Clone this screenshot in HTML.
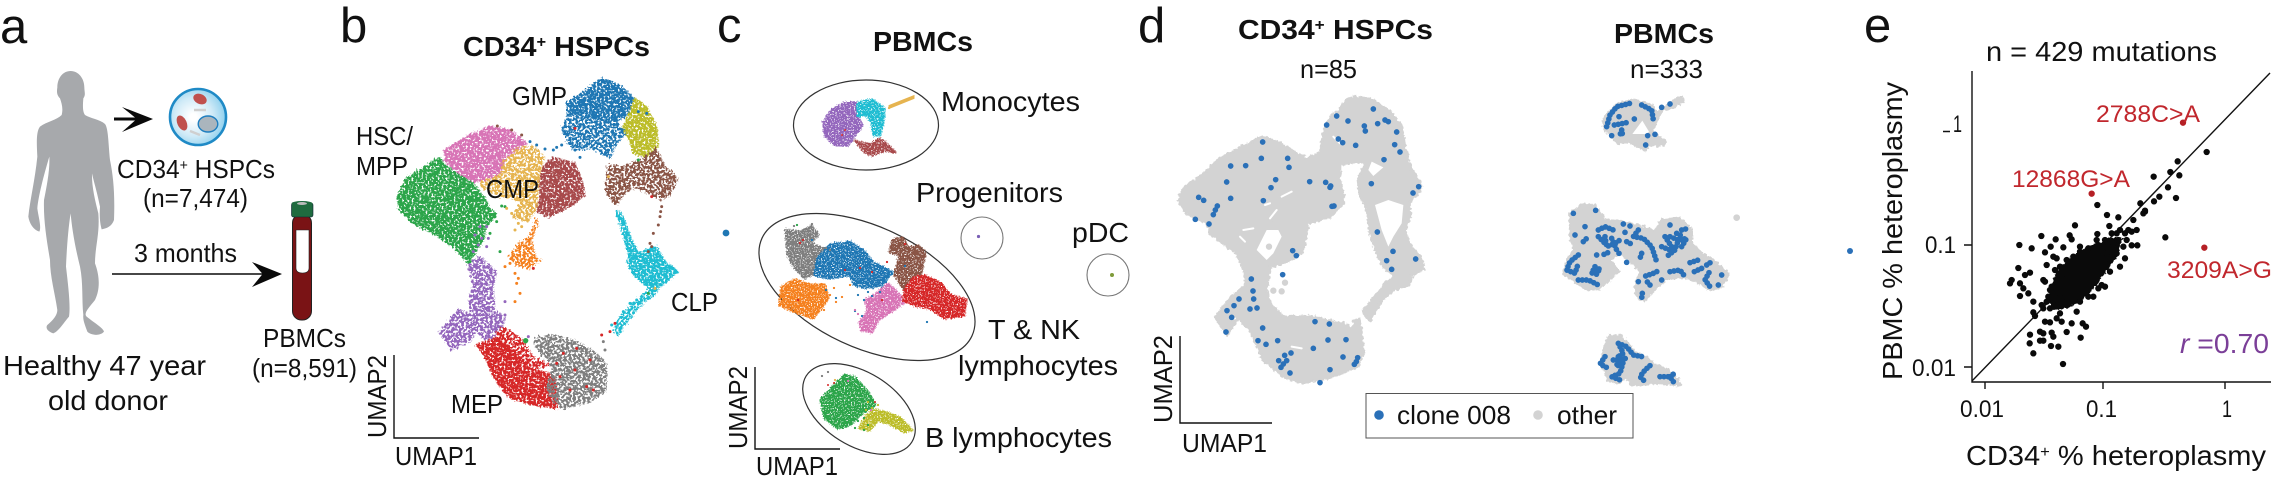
<!DOCTYPE html>
<html><head><meta charset="utf-8"><title>Figure</title>
<style>
html,body{margin:0;padding:0;background:#fff}
svg{display:block}
text{font-family:"Liberation Sans",Arial,sans-serif;fill:#111}
.b{font-weight:bold}
.red{fill:#c1272d}
.d{fill:none;stroke-linecap:round;stroke-linejoin:round}
</style></head><body>
<svg xmlns="http://www.w3.org/2000/svg" width="2275" height="489" viewBox="0 0 2275 489">
<defs>
<radialGradient id="cg" cx="0.42" cy="0.5" r="0.58"><stop offset="0.1" stop-color="#fff"/><stop offset="0.6" stop-color="#cfeaf7"/><stop offset="1" stop-color="#8ed0ee"/></radialGradient>
<filter id="sp" x="-5%" y="-5%" width="110%" height="110%" color-interpolation-filters="sRGB">
<feTurbulence type="fractalNoise" baseFrequency="0.5" numOctaves="2" seed="3" result="n"/>
<feDisplacementMap in="SourceGraphic" in2="n" scale="6" xChannelSelector="R" yChannelSelector="G" result="d"/>
<feColorMatrix in="n" type="matrix" values="0 0 0 0 0 0 0 0 0 0 0 0 0 0 0 15 0 0 0 -5.2" result="m"/>
<feComposite in="d" in2="m" operator="in"/>
</filter>
<filter id="spb" x="-5%" y="-5%" width="110%" height="110%" color-interpolation-filters="sRGB">
<feTurbulence type="fractalNoise" baseFrequency="0.42" numOctaves="2" seed="8" result="n"/>
<feDisplacementMap in="SourceGraphic" in2="n" scale="8" xChannelSelector="R" yChannelSelector="G" result="d"/>
<feColorMatrix in="n" type="matrix" values="0 0 0 0 0 0 0 0 0 0 0 0 0 0 0 15 0 0 0 -6.2" result="m"/>
<feComposite in="d" in2="m" operator="in"/>
</filter>
<filter id="spc" x="-5%" y="-5%" width="110%" height="110%" color-interpolation-filters="sRGB">
<feTurbulence type="fractalNoise" baseFrequency="0.7" numOctaves="2" seed="5" result="n"/>
<feDisplacementMap in="SourceGraphic" in2="n" scale="5" xChannelSelector="R" yChannelSelector="G" result="d"/>
<feColorMatrix in="n" type="matrix" values="0 0 0 0 0 0 0 0 0 0 0 0 0 0 0 15 0 0 0 -4.8" result="m"/>
<feComposite in="d" in2="m" operator="in"/>
</filter>
<filter id="rg" x="-5%" y="-5%" width="110%" height="110%" color-interpolation-filters="sRGB">
<feTurbulence type="fractalNoise" baseFrequency="0.3" numOctaves="2" seed="11" result="n"/>
<feDisplacementMap in="SourceGraphic" in2="n" scale="5" xChannelSelector="R" yChannelSelector="G"/>
</filter>
<polygon id="m1" points="845,103 862,103 858,118 862,125 855,135 848,145 835,145 825,135 824,122 832,110"/>
<polygon id="m2" points="858,103 872,100 884,108 884,118 880,135 874,135 872,122 866,114 858,116"/>
<polygon id="m3" points="855,141 870,145 880,139 888,145 895,152 885,150 878,153 872,155 865,152 860,146"/>
<polygon id="m4" points="889,105.600 914,95.600 914,98.400 889,108.400"/>
<polygon id="t1" points="786,230 800,232 812,226 818,235 810,243 826,250 820,270 805,278 795,268 788,255"/>
<polygon id="t2" points="830,245 850,242 865,252 872,262 892,272 882,285 868,288 855,285 850,275 830,278 815,275 818,258"/>
<polygon id="t3" points="782,287 795,280 810,285 825,285 828,298 820,310 813,318 795,312 780,305"/>
<polygon id="t4" points="893,240 903,238 908,248 918,246 925,252 922,270 917,280 905,290 895,275 900,255 890,252"/>
<polygon id="t5" points="888,284 895,290 905,302 890,312 878,320 872,332 862,330 860,322 868,312 866,300 875,295"/>
<polygon id="t6" points="915,277 925,276 940,283 950,295 966,300 964,315 945,318 930,308 915,305 903,300 906,288"/>
<polygon id="b1" points="835,385 845,375 855,378 868,392 875,405 860,415 850,425 838,428 825,418 821,400"/>
<polygon id="b2" points="860,428 866,416 875,410 888,413 900,418 912,430 905,432 890,424 878,420 870,430"/>
</defs>
<rect width="2275" height="489" fill="#fff"/>

<!-- panel a -->
<path transform="scale(.33333)" fill="#a7a9ac" d="M212,213 C235,213 253,235 253,262 C253,275 258,285 250,295 C248,320 248,335 255,345 C270,355 300,358 315,372 C325,385 325,430 330,480 C340,530 345,580 342,660 C335,680 320,685 305,688 C300,670 298,650 300,620 C290,570 280,540 276,520 C275,560 285,600 295,640 C300,700 285,740 285,790 C300,830 300,870 285,900 C265,925 250,940 260,950 C285,970 310,985 312,995 C300,1010 270,1005 262,995 C255,975 248,960 250,945 C245,900 250,850 240,800 C225,740 215,680 212,640 C205,680 200,750 198,800 C205,860 212,920 207,950 C190,970 175,995 160,1000 C145,995 135,985 142,975 C160,960 172,945 172,930 C165,880 150,830 150,780 C140,720 130,660 132,600 C140,560 150,510 148,470 C130,530 115,590 112,625 C115,650 125,680 118,695 C100,690 88,670 85,650 C90,600 105,540 112,470 C110,430 108,395 120,380 C140,365 170,360 185,345 C190,325 185,310 180,295 C170,285 170,275 172,262 C172,235 188,213 212,213 Z"/>
<path d="M114,117.500H135L122,107L153,119L122,132L135,120.500H114Z" fill="#0a0a0a"/>
<circle cx="198" cy="117" r="28" fill="url(#cg)" stroke="#1f8ac6" stroke-width="2.600"/>
<ellipse cx="208" cy="124" rx="9.800" ry="8" fill="#aab5bd" stroke="#1f7fc0" stroke-width="1.400"/>
<ellipse cx="200" cy="99" rx="7" ry="5" transform="rotate(25 200 99)" fill="#c0504d"/>
<ellipse cx="182" cy="123" rx="8" ry="4.600" transform="rotate(65 182 123)" fill="#c0504d"/>
<path d="M194,110l12,0M190,131l10,4" stroke="#cfcfcf" stroke-width="2.500" fill="none"/>
<path d="M112,273.200H262L252,262L282,274L252,287L262,274.800H112Z" fill="#0a0a0a"/>
<rect x="292.500" y="214" width="19" height="106" rx="9" fill="#7a1315" stroke="#222" stroke-width="1"/>
<path d="M296,230H309V268Q309,273 302.500,273Q296,273 296,268Z" fill="#fff" stroke="#222" stroke-width=".6"/>
<rect x="291.500" y="203" width="21.500" height="14" rx="2" fill="#1f6b3f" stroke="#123" stroke-width=".6"/>
<ellipse cx="302" cy="203.500" rx="10.500" ry="2.500" fill="#1f6b3f"/><ellipse cx="302" cy="203.500" rx="5" ry="1.500" fill="#bbb"/>

<!-- panel b clusters -->
<g filter="url(#sp)" stroke-linejoin="round" stroke-width="5">
<g transform="translate(390 70) scale(.33333)">
<polygon fill="#2ca54a" stroke="#2ca54a" points="22,380 50,325 120,280 150,262 165,285 200,310 250,340 285,385 300,420 320,430 290,470 280,510 235,580 190,530 130,490 70,460 30,420"/>
<polygon fill="#d874b6" stroke="#d874b6" points="165,240 230,200 300,170 360,180 410,220 350,260 330,310 290,330 250,335 200,305 165,275"/>
<polygon fill="#a84a4c" stroke="#a84a4c" points="460,290 490,262 555,280 575,330 585,375 540,410 480,440 440,425 450,380 450,330"/>
<polygon fill="#1f77b4" stroke="#1f77b4" points="530,100 590,60 635,25 690,45 730,85 725,125 680,155 640,150 600,140 570,130 535,130"/>
<polygon fill="#bcbd2a" stroke="#bcbd2a" points="735,85 770,110 800,170 805,230 770,260 730,250 720,210 695,180 720,130"/>
<polygon fill="#d62728" stroke="#d62728" points="260,825 320,800 340,820 400,880 430,900 480,910 495,930 505,1015 430,1005 360,985 310,920 285,860"/>
<polygon fill="#1fbdd2" stroke="#1fbdd2" points="710,575 740,550 770,540 800,530 825,575 865,605 835,630 810,650 790,680 770,650 735,620"/>
<polygon fill="#1fbdd2" stroke="#1fbdd2" points="680,425 695,430 725,510 745,550 720,570 705,510"/>
</g>
</g>
<g filter="url(#spb)" stroke-linejoin="round" stroke-width="5">
<g transform="translate(390 70) scale(.33333)">
<polygon fill="#e6b450" stroke="#e6b450" points="340,280 380,235 430,230 465,260 450,310 445,370 440,420 410,455 370,440 395,390 340,380 285,360 270,340 330,315"/>
<polygon fill="#1f77b4" stroke="#1f77b4" points="535,130 570,130 640,150 680,155 710,190 680,220 660,265 620,240 580,235 555,240 530,210 518,180"/>
<polygon fill="#8a5546" stroke="#8a5546" points="655,285 700,290 760,265 800,235 825,290 865,325 840,375 815,390 780,370 730,350 700,375 680,405 650,370 650,330"/>
<polygon fill="#1fbdd2" stroke="#1fbdd2" points="775,665 785,680 740,720 685,795 670,785 690,740 730,700"/>
<polygon fill="#f5811f" stroke="#f5811f" points="440,445 445,460 425,510 440,565 455,570 420,595 380,585 360,560 385,520 420,500"/>
<polygon fill="#9467bd" stroke="#9467bd" points="235,585 270,560 320,605 310,650 315,720 345,745 330,790 290,810 250,780 240,690 250,640"/>
<polygon fill="#9467bd" stroke="#9467bd" points="205,720 240,730 255,790 240,815 185,840 150,785"/>
<polygon fill="#7f7f7f" stroke="#7f7f7f" points="435,805 490,795 560,815 620,850 650,885 650,960 600,995 520,1015 490,990 470,950 490,900 475,870 445,840"/>
<polygon fill="#d62728" stroke="#d62728" points="320,790 340,770 400,810 430,860 480,885 430,900 370,860 330,820"/>
</g>
</g>
<g transform="translate(390 70) scale(.33333)" class="d" stroke-width="9">
<path stroke="#2ca54a" d="M320 455h.01M300 435h.01M345 410h.01M300 490h.01M335 408h.01M315 440h.01M230 540h.01M245 550h.01M240 575h.01M330 545h.01M775 670h.01M745 270h.01"/>
<path stroke="#2ca54a" stroke-width="16" d="M407 812h.01"/>
<path stroke="#9467bd" d="M295 505h.01M270 470h.01M255 495h.01M265 525h.01M290 530h.01M250 545h.01M290 470h.01M275 505h.01M325 770h.01M345 695h.01M345 735h.01M415 800h.01"/>
<path stroke="#e6b450" d="M375 480h.01M385 460h.01M365 430h.01M350 415h.01M395 470h.01M415 450h.01M385 440h.01M655 320h.01M795 655h.01"/>
<path stroke="#f5811f" d="M360 580h.01M345 590h.01M380 640h.01M390 670h.01M375 695h.01M375 610h.01M385 625h.01"/>
<path stroke="#1f77b4" d="M420 215h.01M440 225h.01M465 237h.01M490 240h.01M515 225h.01M555 240h.01M570 262h.01M500 232h.01M745 125h.01M770 130h.01"/>
<path stroke="#8a5546" d="M815 410h.01M810 440h.01M805 465h.01M790 490h.01M780 520h.01M785 530h.01M812 425h.01M322 168h.01M365 180h.01M395 195h.01M680 395h.01M775 545h.01"/>
<path stroke="#d62728" d="M635 795h.01M660 785h.01M675 760h.01M430 595h.01M520 850h.01M560 835h.01M600 870h.01M555 900h.01M510 920h.01M540 960h.01M590 950h.01M610 960h.01M500 880h.01M450 880h.01M785 380h.01M555 175h.01"/>
<path stroke="#7f7f7f" d="M640 815h.01M645 840h.01M440 830h.01"/>
<path stroke="#1fbdd2" d="M665 765h.01M720 700h.01M700 725h.01M740 690h.01M755 680h.01"/>
</g>

<!-- panel c ellipses + clusters -->
<g fill="none" stroke="#333" stroke-width="1.200">
<ellipse cx="866" cy="125" rx="72.500" ry="45"/>
<ellipse cx="867" cy="287" rx="115.800" ry="60.500" transform="rotate(25 867 287)"/>
<ellipse cx="859" cy="409" rx="62.300" ry="36.700" transform="rotate(32 859 409)"/>
</g>
<g fill="none" stroke="#777" stroke-width="1.100">
<circle cx="982" cy="238" r="21"/><circle cx="1108" cy="275" r="21"/>
</g>
<circle cx="978.500" cy="236.500" r="1.600" fill="#7a5fb5"/>
<circle cx="1112" cy="275" r="2" fill="#7f9b3a"/>
<circle cx="726" cy="233" r="3.400" fill="#1f77b4"/>
<g stroke-width="3" stroke-linejoin="round" filter="url(#spc)">
<use href="#m1" fill="#9467bd" stroke="#9467bd"/>
<use href="#m2" fill="#1fbdd2" stroke="#1fbdd2"/>
<use href="#m3" fill="#a84a4c" stroke="#a84a4c"/>
<use href="#t1" fill="#7f7f7f" stroke="#7f7f7f"/>
<use href="#t3" fill="#f5811f" stroke="#f5811f"/>
<use href="#t2" fill="#1f77b4" stroke="#1f77b4"/>
<use href="#t4" fill="#8a5546" stroke="#8a5546"/>
<use href="#t5" fill="#d874b6" stroke="#d874b6"/>
<use href="#t6" fill="#d62728" stroke="#d62728"/>
<use href="#b1" fill="#2ca54a" stroke="#2ca54a"/>
<use href="#b2" fill="#bcbd2a" stroke="#bcbd2a"/>
</g>
<use href="#m4" fill="#e6b450" stroke="#e6b450" stroke-width="1"/>
<g class="d" stroke-width="2.300">
<path stroke="#1f77b4" d="M857 283h.01M868 292h.01M864 300h.01M872 296h.01M880 292h.01M886 282h.01M826 290h.01M836 298h.01M862 316h.01M855 311h.01M892 274h.01M858 295h.01M812 240h.01M905 266h.01M927 322h.01"/>
<path stroke="#f5811f" d="M830 295h.01M834 288h.01M842 297h.01M836 302h.01M824 310h.01M850 285h.01"/>
<path stroke="#d62728" d="M845 270h.01M860 268h.01M872 272h.01M800 243h.01M803 240h.01M887 262h.01M798 300h.01M905 244h.01M882 300h.01"/>
<path stroke="#7f7f7f" d="M812 224h.01M794 226h.01M826 248h.01M830 250h.01M822 376h.01M828 372h.01"/>
<path stroke="#2ca54a" d="M797 225h.01M864 418h.01M858 421h.01M868 425h.01M873 400h.01M860 412h.01M855 428h.01M864 430h.01"/>
<path stroke="#bcbd2a" d="M868 402h.01M872 408h.01M878 405h.01M866 410h.01"/>
<path stroke="#d874b6" d="M848 381h.01M871 410h.01M860 324h.01M858 314h.01M855 310h.01"/>
<path stroke="#e6b450" d="M892 106h.01M889 108h.01M835 380h.01"/>
<path stroke="#d62728" stroke-width="2" d="M875 402h.01M828 385h.01M834 383h.01M845 130h.01M842 135h.01"/>
</g>

<!-- panel d HSPC gray -->
<g filter="url(#rg)">
<g transform="translate(1170 90) scale(.33333)">
<path fill="#d3d3d3" stroke="#d3d3d3" stroke-width="8" stroke-linejoin="round" d="M555,20L610,30L660,65L695,110L705,170L720,230L755,285L745,310L715,340L722,370L705,425L720,465L750,500L763,535L725,555L720,585L670,600L640,625L600,690L578,665L610,625L650,575L672,560L640,530L620,490L600,430L590,350L570,320L565,260L590,220L560,215L510,225L510,270L520,310L520,340L480,380L415,400L400,485L355,515L300,530L290,600L300,640L340,680L420,680L520,700L550,720L553,690L570,690L575,740L580,790L565,830L490,860L400,880L340,860L280,810L240,720L205,685L170,735L135,680L195,610L225,590L225,550L200,490L120,430L110,400L50,370L25,330L40,295L100,250L150,205L225,165L280,140L320,155L380,190L410,205L450,190L460,130L480,80L520,50L525,30Z"/>
</g>
</g>
<g transform="translate(1170 90) scale(.33333)">
<path fill="#fff" d="M615,345L655,330L700,345L695,400L670,440L655,470L635,420ZM290,420L325,420L335,440L310,490L290,510L260,480L275,450ZM605,215L640,232L610,258L595,240Z"/>
<path fill="none" stroke="#fff" stroke-width="6" stroke-linecap="round" d="M300,385L320,360M335,320L365,305M210,440L225,455M220,420L250,415M490,140L510,160M180,685L195,685M285,345L300,340M365,770L395,775"/>
<g class="d" stroke="#d3d3d3" stroke-width="19"><path d="M345 578h.01M310 602h.01M335 604h.01M297 470h.01M305 403h.01"/></g>
<g class="d" stroke="#2a70b8" stroke-width="17"><path d="M610 57h.01M500 78h.01M534 93h.01M470 105h.01M583 108h.01M586 123h.01M623 101h.01M645 90h.01M655 95h.01M680 126h.01M674 164h.01M690 186h.01M505 147h.01M518 158h.01M557 166h.01M642 209h.01M604 281h.01M746 290h.01M729 309h.01M278 156h.01M274 205h.01M353 205h.01M182 228h.01M227 227h.01M357 232h.01M170 276h.01M317 269h.01M303 293h.01M419 275h.01M467 277h.01M482 288h.01M480 292h.01M86 322h.01M101 331h.01M182 325h.01M280 332h.01M142 348h.01M136 360h.01M130 374h.01M76 388h.01M117 402h.01M486 349h.01M492 348h.01M368 482h.01M379 497h.01M338 554h.01M622 426h.01M669 484h.01M650 512h.01M737 507h.01M665 538h.01M244 567h.01M249 603h.01M251 627h.01M207 627h.01M192 647h.01M171 662h.01M240 657h.01M261 654h.01M185 682h.01M278 714h.01M168 726h.01M435 695h.01M478 702h.01M474 750h.01M528 749h.01M264 752h.01M288 763h.01M323 752h.01M430 775h.01M363 789h.01M344 796h.01M519 801h.01M563 803h.01M559 815h.01M553 823h.01M326 812h.01M350 812h.01M340 822h.01M333 832h.01M360 849h.01M480 839h.01M450 878h.01"/></g>
</g>

<!-- panel d PBMC gray -->
<g filter="url(#rg)">
<g transform="translate(1555 90) scale(.33333)" fill="#d3d3d3" stroke="#d3d3d3" stroke-width="8" stroke-linejoin="round">
<path d="M160,70L190,40L240,30L290,45L305,70L345,38L380,20L385,35L345,55L320,60L300,100L290,130L335,155L325,165L280,165L270,180L225,155L190,160L150,120L145,95Z"/>
<path d="M45,370L80,345L120,345L150,390L200,395L260,410L300,425L320,390L375,385L410,420L410,460L440,490L480,515L520,550L500,590L465,600L420,570L370,560L330,570L300,600L270,630L250,630L240,590L255,550L240,520L195,490L165,510L190,545L135,595L100,600L60,575L25,550L40,500L60,480L45,440Z"/>
<path d="M160,740L195,735L240,785L270,800L300,825L340,840L370,870L375,885L310,880L230,885L215,860L190,880L160,870L140,820L145,780Z"/>
</g>
</g>
<g transform="translate(1555 90) scale(.33333)">
<path fill="#fff" d="M232,132L262,92L282,125L275,132Z"/>
<g class="d" stroke="#d3d3d3" stroke-width="20"><path d="M545 383h.01M85 350h.01"/></g>
<g class="d" stroke="#2a70b8" stroke-width="17" fill="none" stroke-dasharray="0 12">
<path d="M155 110L165 75L185 50L225 40M260 45L290 60L295 90M178 105L205 100L218 97M200 120L195 135L210 125M272 165L282 163M192 80h.01M238 87h.01M320 52h.01M345 42L352 38M170 137h.01M278 137h.01M300 133h.01"/>
<path d="M55 370h.01M122 361h.01M90 410L100 410M60 435L65 445M130 420L150 410L175 420M85 455L100 440M150 440L155 470L180 460L195 450M205 402h.01M225 408h.01M210 427h.01M250 420L235 440L265 445L290 470L305 515M260 490L255 505M345 405h.01M380 420L400 415M345 440L370 450L360 480L335 500M380 470L395 445L370 450M125 495h.01M147 493L165 485M192 490h.01M215 517h.01M130 440L150 460M170 445L185 480M215 455L235 465M320 470L345 480M330 440L350 470M365 430L385 440"/>
<path d="M70 495L45 515L35 540L60 550L70 520M120 530L110 550L135 535L120 560M70 570L100 570L130 585M250 575h.01M272 558L295 550L315 540M320 570h.01M285 585L272 570M262 610L260 625M345 545L375 540L390 560M405 518L430 510M418 545L440 535M455 525L470 515M462 548L450 570L465 590M490 585h.01M500 555h.01"/>
<path d="M190 760L215 770L235 795L262 800M190 760L205 790L190 800M150 800L135 822L160 835M190 800L185 830L205 815L195 850L170 860L195 870M175 810L215 805M285 827L270 840L255 860L270 875M315 860L345 860L355 875M345 860L358 850"/>
</g>
</g>
<circle cx="1850" cy="251" r="3" fill="#2a70b8"/>

<!-- legend -->
<rect x="1366" y="393.500" width="267" height="44.500" fill="#fff" stroke="#555" stroke-width="1"/>
<circle cx="1379" cy="415" r="4.800" fill="#2a70b8"/>
<circle cx="1538" cy="415" r="4.800" fill="#d3d3d3"/>

<!-- axes -->
<g fill="none" stroke="#111" stroke-width="1.400">
<path d="M394,355V438H479"/>
<path d="M755,367V449H840"/>
<path d="M1180,336V423H1272"/>
<path d="M1972,71V382H2271"/>
<path d="M1964,245H1972M1964,367H1972M1943,131.500H1950M1985,382V389M2103,382V389M2225,382V389"/>
<path d="M1972,381L2270,73"/>
</g>

<!-- panel e scatter -->
<polygon filter="url(#rg)" fill="#0a0a0a" points="2047,300 2055,273 2070,257 2087,247 2110,238 2123,237 2117,257 2100,280 2087,297 2070,308 2053,310"/>
<g transform="translate(1880 0) scale(.33333)" class="d" stroke="#0a0a0a" stroke-width="19">
<path d="M980 456h.01M893 484h.01M871 516h.01M898 526h.01M821 530h.01M864 562h.01M888 594h.01M838 590h.01M822 604h.01M781 610h.01M652 615h.01M681 645h.01M715 652h.01M795 635h.01M585 676h.01M688 678h.01M652 702h.01M856 712h.01M484 708h.01M527 718h.01M418 735h.01M455 745h.01M772 736h.01M755 736h.01M569 706h.01M575 718h.01M550 742h.01M495 757h.01M512 740h.01M415 804h.01M450 818h.01M435 825h.01M395 840h.01M390 850h.01M420 850h.01M430 865h.01M445 880h.01M420 888h.01M460 905h.01M460 937h.01M465 948h.01M495 965h.01M510 967h.01M450 1004h.01M480 995h.01M490 1000h.01M515 998h.01M520 1010h.01M602 1013h.01M560 996h.01M618 980h.01M608 970h.01M449 1030h.01M480 1022h.01M490 1022h.01M513 1038h.01M535 1040h.01M460 1060h.01M549 1092h.01M770 690h.01M745 690h.01M720 690h.01M760 660h.01M795 632h.01M790 640h.01M735 700h.01M710 700h.01M735 775h.01M720 800h.01M690 815h.01M665 855h.01M675 860h.01M640 890h.01M590 935h.01M575 970h.01M545 965h.01M530 955h.01M490 925h.01M485 915h.01M495 845h.01M500 795h.01M520 770h.01M490 840h.01M540 800h.01M600 740h.01M650 720h.01M675 720h.01M730 740h.01M710 760h.01M510 870h.01M540 940h.01M525 810h.01M530 845h.01M515 860h.01M520 900h.01M500 905h.01M510 925h.01M560 905h.01M580 900h.01M600 905h.01M625 890h.01M655 865h.01M650 840h.01M690 780h.01M700 730h.01M680 760h.01M625 745h.01M580 770h.01M560 780h.01M530 775h.01M545 825h.01M715 720h.01M740 720h.01M755 695h.01M695 700h.01M670 740h.01M600 755h.01M540 880h.01M505 890h.01"/>
</g>
<g transform="translate(1880 0) scale(.33333)" class="d" stroke="#b52025" stroke-width="19">
<path d="M909 368h.01M635 581h.01M973 743h.01"/>
</g>

<!-- labels -->
<g font-size="49">
<text x="0" y="43">a</text>
<text x="340" y="42">b</text>
<text x="717" y="42">c</text>
<text x="1138" y="42">d</text>
<text x="1864" y="42">e</text>
</g>
<g font-size="26">
<text x="117" y="178" textLength="158" lengthAdjust="spacingAndGlyphs">CD34<tspan dy="-8" font-size="15">+</tspan><tspan dy="8"> HSPCs</tspan></text>
<text x="143" y="207" textLength="105" lengthAdjust="spacingAndGlyphs">(n=7,474)</text>
<text x="134" y="262" textLength="103" lengthAdjust="spacingAndGlyphs">3 months</text>
<text x="263" y="347" textLength="83" lengthAdjust="spacingAndGlyphs">PBMCs</text>
<text x="252" y="377" textLength="105" lengthAdjust="spacingAndGlyphs">(n=8,591)</text>
<text x="356" y="145" textLength="57" lengthAdjust="spacingAndGlyphs">HSC/</text>
<text x="356" y="175" textLength="52" lengthAdjust="spacingAndGlyphs">MPP</text>
<text x="512" y="105" textLength="55" lengthAdjust="spacingAndGlyphs">GMP</text>
<text x="486" y="198" textLength="53" lengthAdjust="spacingAndGlyphs">CMP</text>
<text x="671" y="311" textLength="47" lengthAdjust="spacingAndGlyphs">CLP</text>
<text x="451" y="413" textLength="52" lengthAdjust="spacingAndGlyphs">MEP</text>
<text x="395" y="465" textLength="82" lengthAdjust="spacingAndGlyphs">UMAP1</text>
<text transform="translate(386 438) rotate(-90)" textLength="83" lengthAdjust="spacingAndGlyphs">UMAP2</text>
<text x="756" y="475" textLength="82" lengthAdjust="spacingAndGlyphs">UMAP1</text>
<text transform="translate(747 449) rotate(-90)" textLength="83" lengthAdjust="spacingAndGlyphs">UMAP2</text>
<text x="1182" y="452" textLength="85" lengthAdjust="spacingAndGlyphs">UMAP1</text>
<text transform="translate(1172 423) rotate(-90)" textLength="88" lengthAdjust="spacingAndGlyphs">UMAP2</text>
<text x="1300" y="78" textLength="57" lengthAdjust="spacingAndGlyphs">n=85</text>
<text x="1630" y="78" textLength="73" lengthAdjust="spacingAndGlyphs">n=333</text>
<text x="1397" y="424" textLength="114" lengthAdjust="spacingAndGlyphs">clone 008</text>
<text x="1557" y="424" textLength="60" lengthAdjust="spacingAndGlyphs">other</text>
</g>
<g font-size="28">
<text x="3" y="375" textLength="203" lengthAdjust="spacingAndGlyphs">Healthy 47 year</text>
<text x="48" y="410" textLength="120" lengthAdjust="spacingAndGlyphs">old donor</text>
<text x="941" y="111" textLength="139" lengthAdjust="spacingAndGlyphs">Monocytes</text>
<text x="916" y="202" textLength="147" lengthAdjust="spacingAndGlyphs">Progenitors</text>
<text x="1072" y="242" textLength="57" lengthAdjust="spacingAndGlyphs">pDC</text>
<text x="988" y="339" textLength="92" lengthAdjust="spacingAndGlyphs">T &amp; NK</text>
<text x="958" y="375" textLength="160" lengthAdjust="spacingAndGlyphs">lymphocytes</text>
<text x="925" y="447" textLength="187" lengthAdjust="spacingAndGlyphs">B lymphocytes</text>
<text x="1986" y="61" textLength="231" lengthAdjust="spacingAndGlyphs">n = 429 mutations</text>
<text x="1966" y="465" textLength="300" lengthAdjust="spacingAndGlyphs">CD34<tspan dy="-8" font-size="16">+</tspan><tspan dy="8"> % heteroplasmy</tspan></text>
<text transform="translate(1902 380) rotate(-90)" textLength="298" lengthAdjust="spacingAndGlyphs">PBMC % heteroplasmy</text>
</g>
<g font-size="28">
<text class="b" x="463" y="56" textLength="187" lengthAdjust="spacingAndGlyphs">CD34<tspan dy="-9" font-size="16">+</tspan><tspan dy="9"> HSPCs</tspan></text>
<text class="b" x="873" y="51" textLength="100" lengthAdjust="spacingAndGlyphs">PBMCs</text>
<text class="b" x="1238" y="39" textLength="195" lengthAdjust="spacingAndGlyphs">CD34<tspan dy="-9" font-size="16">+</tspan><tspan dy="9"> HSPCs</tspan></text>
<text class="b" x="1614" y="43" textLength="100" lengthAdjust="spacingAndGlyphs">PBMCs</text>
</g>
<g font-size="24">
<text x="1953" y="132" textLength="9" lengthAdjust="spacingAndGlyphs">1</text>
<text x="1925" y="253" textLength="31" lengthAdjust="spacingAndGlyphs">0.1</text>
<text x="1912" y="376" textLength="44" lengthAdjust="spacingAndGlyphs">0.01</text>
<text x="1960" y="417" textLength="44" lengthAdjust="spacingAndGlyphs">0.01</text>
<text x="2086" y="417" textLength="31" lengthAdjust="spacingAndGlyphs">0.1</text>
<text x="2222" y="417" textLength="10" lengthAdjust="spacingAndGlyphs">1</text>
<text class="red" x="2096" y="122" textLength="104" lengthAdjust="spacingAndGlyphs">2788C&gt;A</text>
<text class="red" x="2012" y="187" textLength="118" lengthAdjust="spacingAndGlyphs">12868G&gt;A</text>
<text class="red" x="2167" y="278" textLength="105" lengthAdjust="spacingAndGlyphs">3209A&gt;G</text>
</g>
<text x="2180" y="353" font-size="28" textLength="89" lengthAdjust="spacingAndGlyphs" style="fill:#7b3f98"><tspan font-style="italic" style="fill:#7b3f98">r</tspan> =0.70</text>
</svg>
</body></html>
